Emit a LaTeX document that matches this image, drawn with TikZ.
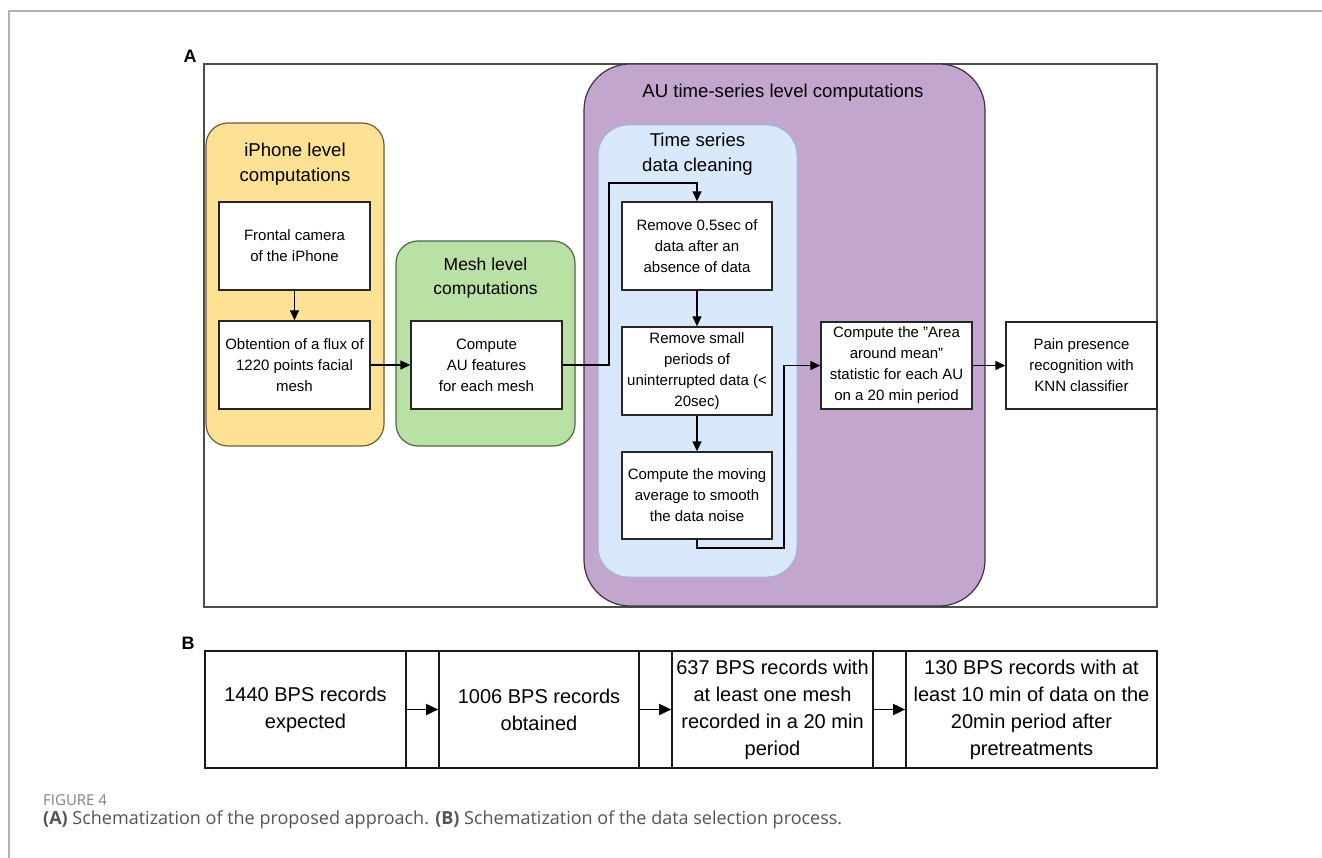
\documentclass[tikz,border=0pt]{standalone}
\usepackage{fontspec}
\setmainfont{Liberation Sans}
\newfontfamily\capfont{Open Sans}
\usetikzlibrary{arrows.meta}
\definecolor{yelfill}{HTML}{FEE195}
\definecolor{yeldraw}{HTML}{6B5E3C}
\definecolor{grnfill}{HTML}{B9E0A5}
\definecolor{grndraw}{HTML}{4E6B42}
\definecolor{purfill}{HTML}{C3A6CE}
\definecolor{purdraw}{HTML}{3C3342}
\definecolor{blufill}{HTML}{DAE8FC}
\definecolor{bludraw}{HTML}{9DB5D8}
\definecolor{capgray}{HTML}{555555}
\definecolor{figgray}{HTML}{808080}
\begin{document}
\begin{tikzpicture}[x=1pt,y=-1pt,
  boxA/.style={draw=black!85, line width=1.4pt, fill=white, align=center, inner sep=1pt,
    font=\fontsize{15}{21}\selectfont, minimum width=151pt, minimum height=88pt},
  boxB/.style={draw=black!90, line width=1.7pt, fill=white, align=center, inner sep=1pt,
    font=\fontsize{20}{27}\selectfont, minimum height=117pt},
  cont/.style={line width=1.2pt},
  ttl/.style={align=center, font=\fontsize{18.6}{25}\selectfont},
  arr/.style={-{Triangle[length=10pt,width=9pt]}, line width=1.4pt, black},
  arrB/.style={-{Triangle[length=12pt,width=11pt]}, line width=1.8pt, black},
  lbl/.style={font=\fontsize{18}{20}\selectfont\bfseries}
]
\useasboundingbox (0,0) rectangle (1322,858);
\fill[white] (0,0) rectangle (1322,858);
% page frame lines
\draw[black!30, line width=1.5pt] (9,858) -- (9,11) -- (1322,11);

% ---------- Panel A ----------
\node[lbl] (labA) at (190,56) {A};
\node[draw=black!70, line width=1.2pt, minimum width=953pt, minimum height=543pt, inner sep=0pt] (frameA) at (680.5,335.5) {};

% containers
\node[cont, draw=yeldraw, fill=yelfill, rounded corners=22pt, minimum width=178pt, minimum height=323pt] (ycont) at (295,284.5) {};
\node[cont, draw=grndraw, fill=grnfill, rounded corners=22pt, minimum width=179pt, minimum height=205pt] (gcont) at (485.5,343.5) {};
\node[cont, draw=purdraw, fill=purfill, rounded corners=46pt, minimum width=401pt, minimum height=542pt] (pcont) at (784.5,335) {};
\node[line width=1pt, draw=bludraw, fill=blufill, rounded corners=30pt, minimum width=199pt, minimum height=452pt] (bcont) at (697.5,351) {};

% titles
\node[ttl] (yttl) at (295,164.5) {iPhone level\\computations};
\node[ttl, font=\fontsize{17.5}{24}\selectfont] (gttl) at (485.5,278) {Mesh level\\computations};
\node[ttl] (pttl) at (783,93) {AU time-series level computations};
\node[ttl] (bttl) at (697.5,154.5) {Time series\\data cleaning};

% boxes
\node[boxA] (cam) at (294.5,246) {Frontal camera\\of the iPhone};
\node[boxA] (flux) at (294.5,365) {Obtention of a flux of\\1220 points facial\\mesh};
\node[boxA] (au) at (486.5,365) {Compute\\AU features\\for each mesh};
\node[boxA, minimum width=150pt] (r1) at (697,246) {Remove 0.5sec of\\data after an\\absence of data};
\node[boxA, minimum width=150pt] (r2) at (697,371) {Remove small\\periods of\\uninterrupted data (<\\20sec)};
\node[boxA, minimum width=150pt, minimum height=87pt] (r3) at (697,495.5) {Compute the moving\\average to smooth\\the data noise};
\node[boxA, minimum height=87pt] (area) at (896.5,365.5) {Compute the \char34Area\\around mean\char34\\statistic for each AU\\on a 20 min period};
\node[boxA, minimum height=87pt] (pain) at (1081.5,365.5) {Pain presence\\recognition with\\KNN classifier};

\coordinate (c1) at (609,365);
\coordinate (c2) at (609,183);
\coordinate (c3) at (697,183);
\coordinate (d1) at (697,548);
\coordinate (d2) at (784,548);
\coordinate (d3) at (784,365.5);

\draw[arr] (cam) -- (flux);
\draw[arr] (flux) -- (au);
\draw[arr] (au.east) -- (c1) -- (c2) -- (c3) -- (r1.north);
\draw[arr] (r1) -- (r2);
\draw[arr] (r2) -- (r3);
\draw[arr] (r3.south) -- (d1) -- (d2) -- (d3) -- (area.west);
\draw[arr] (area) -- (pain);

% ---------- Panel B ----------
\node[lbl] (labB) at (188,643) {B};
\node[draw=black!90, line width=1.7pt, minimum width=952pt, minimum height=117pt, inner sep=0pt] (frameB) at (681,709.5) {};
\node[boxB, minimum width=201pt] (b1) at (305.5,709.5) {1440 BPS records\\expected};
\node[boxB, minimum width=200pt] (b2) at (539,709.5) {1006 BPS records\\obtained};
\node[boxB, minimum width=201pt] (b3) at (772.5,709.5) {637 BPS records with\\at least one mesh\\recorded in a 20 min\\period};
\node[boxB, minimum width=251pt] (b4) at (1031.5,709.5) {130 BPS records with at\\least 10 min of data on the\\20min period after\\pretreatments};
\draw[arrB] (b1) -- (b2);
\draw[arrB] (b2) -- (b3);
\draw[arrB] (b3) -- (b4);

% ---------- Caption ----------
\node[anchor=base west, inner sep=0pt, text=figgray, font=\capfont\fontsize{15}{17}\selectfont] (fig) at (43,805) {FIGURE 4};
\node[anchor=base west, inner sep=0pt, text=capgray, font=\capfont\fontsize{18}{21}\selectfont] (cap) at (43,824) {\textbf{(A)} Schematization of the proposed approach. \textbf{(B)} Schematization of the data selection process.};
\end{tikzpicture}
\end{document}
